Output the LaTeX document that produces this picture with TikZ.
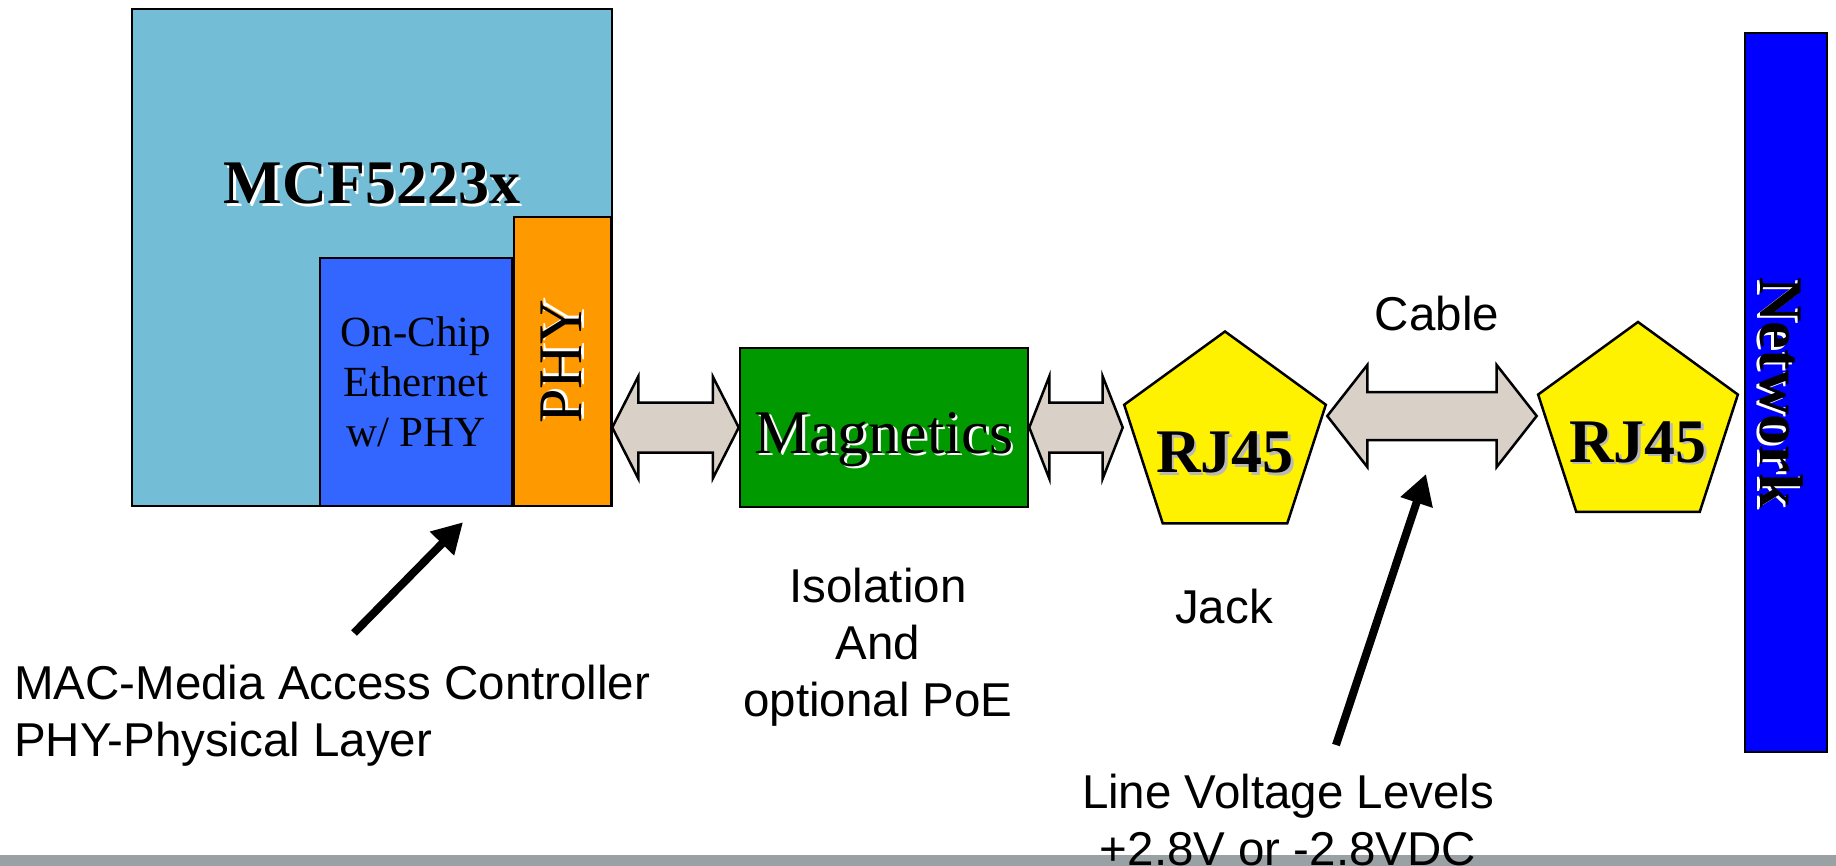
\documentclass[tikz,border=0pt]{standalone}
\usepackage{fontspec}
\setmainfont{Liberation Serif}
\setsansfont{Liberation Sans}
\usetikzlibrary{arrows.meta,positioning,shapes.geometric,calc}
\definecolor{chipblue}{RGB}{115,189,214}
\definecolor{macblue}{RGB}{51,102,255}
\definecolor{phyorange}{RGB}{255,153,0}
\definecolor{maggreen}{RGB}{0,153,0}
\definecolor{pipebeige}{RGB}{217,209,199}
\definecolor{footgray}{RGB}{154,161,164}

% text with an offset shadow behind it
\newcommand{\shadetext}[2][white]{\makebox[0pt][l]{\kern2.5pt\raisebox{-2.5pt}{\textcolor{#1}{#2}}}#2}
% fat double arrow: left tip, right tip, head length, head half width, shaft half width
\newcommand{\fatlink}[5]{%
  \draw[pipe] let \p1=(#1), \p2=(#2) in (\x1,\y1) -- (\x1+#3,\y1+#4) -- (\x1+#3,\y1+#5)
    -- (\x2-#3,\y1+#5) -- (\x2-#3,\y1+#4) -- (\x2,\y1) -- (\x2-#3,\y1-#4)
    -- (\x2-#3,\y1-#5) -- (\x1+#3,\y1-#5) -- (\x1+#3,\y1-#4) -- cycle;}

\begin{document}
\begin{tikzpicture}[
  x=1pt, y=-1pt,
  box/.style={draw,line width=2.5pt,inner sep=0pt},
  bigser/.style={font=\fontsize{62}{70}\selectfont},
  jack/.style={draw,line width=2.5pt,fill=yellow,regular polygon,regular polygon sides=5,
               inner sep=0pt,font=\fontsize{62}{70}\selectfont\bfseries},
  pipe/.style={draw,line width=2.5pt,fill=pipebeige,line join=miter},
  note/.style={font=\sffamily\fontsize{47.5}{57}\selectfont,inner sep=0pt,align=center},
  pointer/.style={line width=8pt,-{Triangle[length=30pt,width=32pt]}},
]
\useasboundingbox (0,0) rectangle (1836,866);
\fill[footgray] (0,855) rectangle (1836,866);
\node[box,fill=chipblue,minimum width=480pt,minimum height=497pt] (chip) at (372,257.5) {};
\node[bigser,font=\fontsize{62}{70}\selectfont\bfseries] (title) at (372,185) {\shadetext{MCF5223x}};
\node[box,fill=macblue,minimum width=192pt,minimum height=248pt,align=center,
      font=\fontsize{43}{50}\selectfont] (eth) at (416,382) {On-Chip\\Ethernet\\w/ PHY};
\node[box,fill=phyorange,minimum width=97pt,minimum height=289pt,bigser] (phy) at (562.5,361.5)
  {\rotatebox{90}{\shadetext{PHY}}};
\node[box,fill=maggreen,minimum width=288pt,minimum height=159pt,bigser] (mag) at (884,427.5)
  {\raisebox{-13pt}[\height][\depth]{\shadetext{Magnetics}}};
\node[jack,minimum size=212pt] (jack) at (1225,437.5)
  {\makebox[0pt]{\raisebox{-35pt}[0pt][0pt]{\shadetext[gray!55]{RJ45}}}};
\node[jack,minimum size=210pt] (plug) at (1638,427)
  {\makebox[0pt]{\raisebox{-35pt}[0pt][0pt]{\shadetext[gray!55]{RJ45}}}};
\node[box,fill=blue,minimum width=82pt,minimum height=719pt,font=\fontsize{62}{70}\selectfont\bfseries]
  (net) at (1786,392.5) {\rotatebox{-90}{\raisebox{-6pt}[\height][\depth]{\shadetext{Network}}}};

\node[note] (cablelbl) at (1437,314) {Cable};
\node[note] (jacklbl) at (1224,607) {Jack};
\node[note] (isolbl) at (878,647) {Isolation\\And\\optional PoE};
\node[note,align=left,anchor=west] (maclbl) at (14,716) {MAC-Media Access Controller\\PHY-Physical Layer};
\node[note] (voltlbl) at (1288,820) {Line Voltage Levels\\+2.8V or -2.8VDC};

\coordinate (cab) at (0,416);
\fatlink{phy.east |- mag.west}{mag.west}{26pt}{51pt}{25pt}
\fatlink{mag.east}{jack.corner 2 |- mag.east}{20pt}{51pt}{25pt}
\fatlink{jack.corner 5 |- cab}{plug.corner 2 |- cab}{40pt}{51pt}{24pt}

\coordinate (macend) at (354,633);
\coordinate (voltend) at (1336,745);
\coordinate (cabtip) at (1426,474);
\draw[pointer] (macend) -- ([xshift=47pt,yshift=-15pt]eth.south);
\draw[pointer] (voltend) -- (cabtip);
\end{tikzpicture}
\end{document}
